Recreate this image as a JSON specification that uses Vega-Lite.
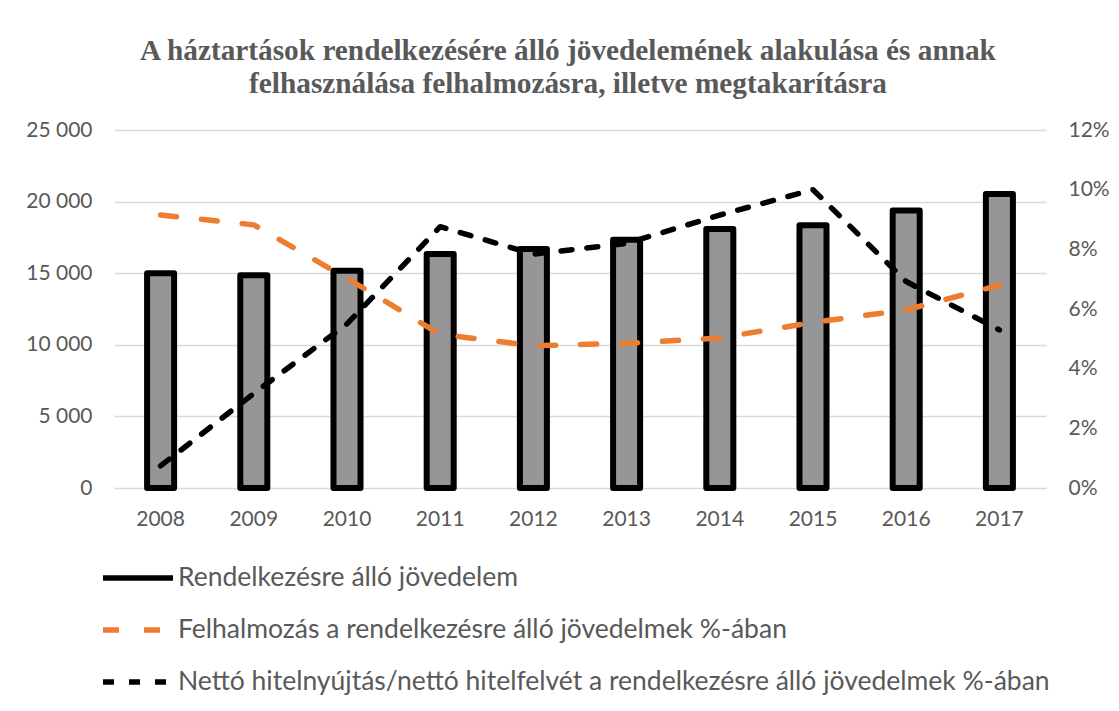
{
  "$schema": "https://vega.github.io/schema/vega-lite/v6.json",
  "width": 932,
  "height": 358,
  "autosize": "none",
  "padding": {"left": 114, "top": 130, "right": 73, "bottom": 223},
  "background": "white",
  "config": {"view": {"stroke": null}},
  "title": {
    "text": ["A háztartások rendelkezésére álló jövedelemének alakulása és annak", "felhasználása felhalmozásra, illetve megtakarításra"],
    "font": "Liberation Serif",
    "fontSize": 29.3,
    "fontWeight": "bold",
    "color": "#595959",
    "anchor": "middle",
    "dx": -12,
    "offset": 20,
    "lineHeight": 33
  },
  "data": {"values": [
    {"year": "2008", "inc": 15000, "felh": 0.0915, "netto": 0.0074},
    {"year": "2009", "inc": 14850, "felh": 0.0882, "netto": 0.0317},
    {"year": "2010", "inc": 15170, "felh": 0.0703, "netto": 0.055},
    {"year": "2011", "inc": 16340, "felh": 0.0515, "netto": 0.0876},
    {"year": "2012", "inc": 16690, "felh": 0.0477, "netto": 0.0784},
    {"year": "2013", "inc": 17340, "felh": 0.0485, "netto": 0.082},
    {"year": "2014", "inc": 18090, "felh": 0.0503, "netto": 0.0915},
    {"year": "2015", "inc": 18350, "felh": 0.0555, "netto": 0.1},
    {"year": "2016", "inc": 19370, "felh": 0.0597, "netto": 0.0692},
    {"year": "2017", "inc": 20530, "felh": 0.068, "netto": 0.053}
  ]},
  "encoding": {
    "x": {
      "field": "year", "type": "ordinal",
      "scale": {"paddingInner": 0, "paddingOuter": 0},
      "axis": {"title": null, "labelAngle": 0, "labelFont": "Lato", "labelFontSize": 21, "labelColor": "#595959", "labelPadding": 20, "ticks": false, "domainColor": "#d9d9d9", "domainWidth": 1}
    }
  },
  "layer": [
    {
      "mark": {"type": "bar", "fill": "#969696", "strokeWidth": 6, "strokeJoin": "round", "width": {"band": 0.29}},
      "encoding": {
        "y": {
          "field": "inc", "type": "quantitative",
          "scale": {"domain": [0, 25000]},
          "axis": {"title": null, "values": [0, 5000, 10000, 15000, 20000, 25000], "labelExpr": "replace(format(datum.value, ','), ',', ' ')", "labelFont": "Lato", "labelFontSize": 21, "labelColor": "#595959", "labelPadding": 22, "ticks": false, "domain": false, "gridColor": "#d9d9d9", "gridWidth": 1.5}
        },
        "stroke": {
          "datum": "Rendelkezésre álló jövedelem", "type": "nominal",
          "scale": {"domain": ["Rendelkezésre álló jövedelem", "Felhalmozás a rendelkezésre álló jövedelmek %-ában", "Nettó hitelnyújtás/nettó hitelfelvét a rendelkezésre álló jövedelmek %-ában"], "range": ["#000000", "#ED7D31", "#000000"]},
          "legend": {
            "orient": "none", "legendX": -14, "legendY": 410, "direction": "vertical",
            "title": null, "symbolSize": 4900, "symbolType": "stroke", "symbolStrokeWidth": 5.5,
            "labelFont": "Lato", "labelFontSize": 26.5, "labelColor": "#595959", "labelOffset": 2, "labelLimit": 1100,
            "rowPadding": -19
          }
        },
        "strokeDash": {
          "datum": "Rendelkezésre álló jövedelem", "type": "nominal",
          "scale": {"domain": ["Rendelkezésre álló jövedelem", "Felhalmozás a rendelkezésre álló jövedelmek %-ában", "Nettó hitelnyújtás/nettó hitelfelvét a rendelkezésre álló jövedelmek %-ában"], "range": [[1, 0], [16, 25], [11, 15]]}
        }
      }
    },
    {
      "mark": {"type": "line", "strokeWidth": 5.5, "strokeCap": "round", "strokeJoin": "round"},
      "encoding": {
        "y": {
          "field": "felh", "type": "quantitative",
          "scale": {"domain": [0, 0.12]},
          "axis": {"orient": "right", "title": null, "values": [0, 0.02, 0.04, 0.06, 0.08, 0.1, 0.12], "format": ".0%", "labelFont": "Lato", "labelFontSize": 21, "labelColor": "#595959", "labelPadding": 22, "ticks": false, "domain": false, "grid": false}
        },
        "stroke": {"datum": "Felhalmozás a rendelkezésre álló jövedelmek %-ában", "type": "nominal"},
        "strokeDash": {"datum": "Felhalmozás a rendelkezésre álló jövedelmek %-ában", "type": "nominal"}
      }
    },
    {
      "mark": {"type": "line", "strokeWidth": 5.5, "strokeCap": "round", "strokeJoin": "round"},
      "encoding": {
        "y": {"field": "netto", "type": "quantitative", "scale": {"domain": [0, 0.12]}, "axis": null},
        "stroke": {"datum": "Nettó hitelnyújtás/nettó hitelfelvét a rendelkezésre álló jövedelmek %-ában", "type": "nominal"},
        "strokeDash": {"datum": "Nettó hitelnyújtás/nettó hitelfelvét a rendelkezésre álló jövedelmek %-ában", "type": "nominal"}
      }
    }
  ],
  "resolve": {"scale": {"y": "independent"}}
}
